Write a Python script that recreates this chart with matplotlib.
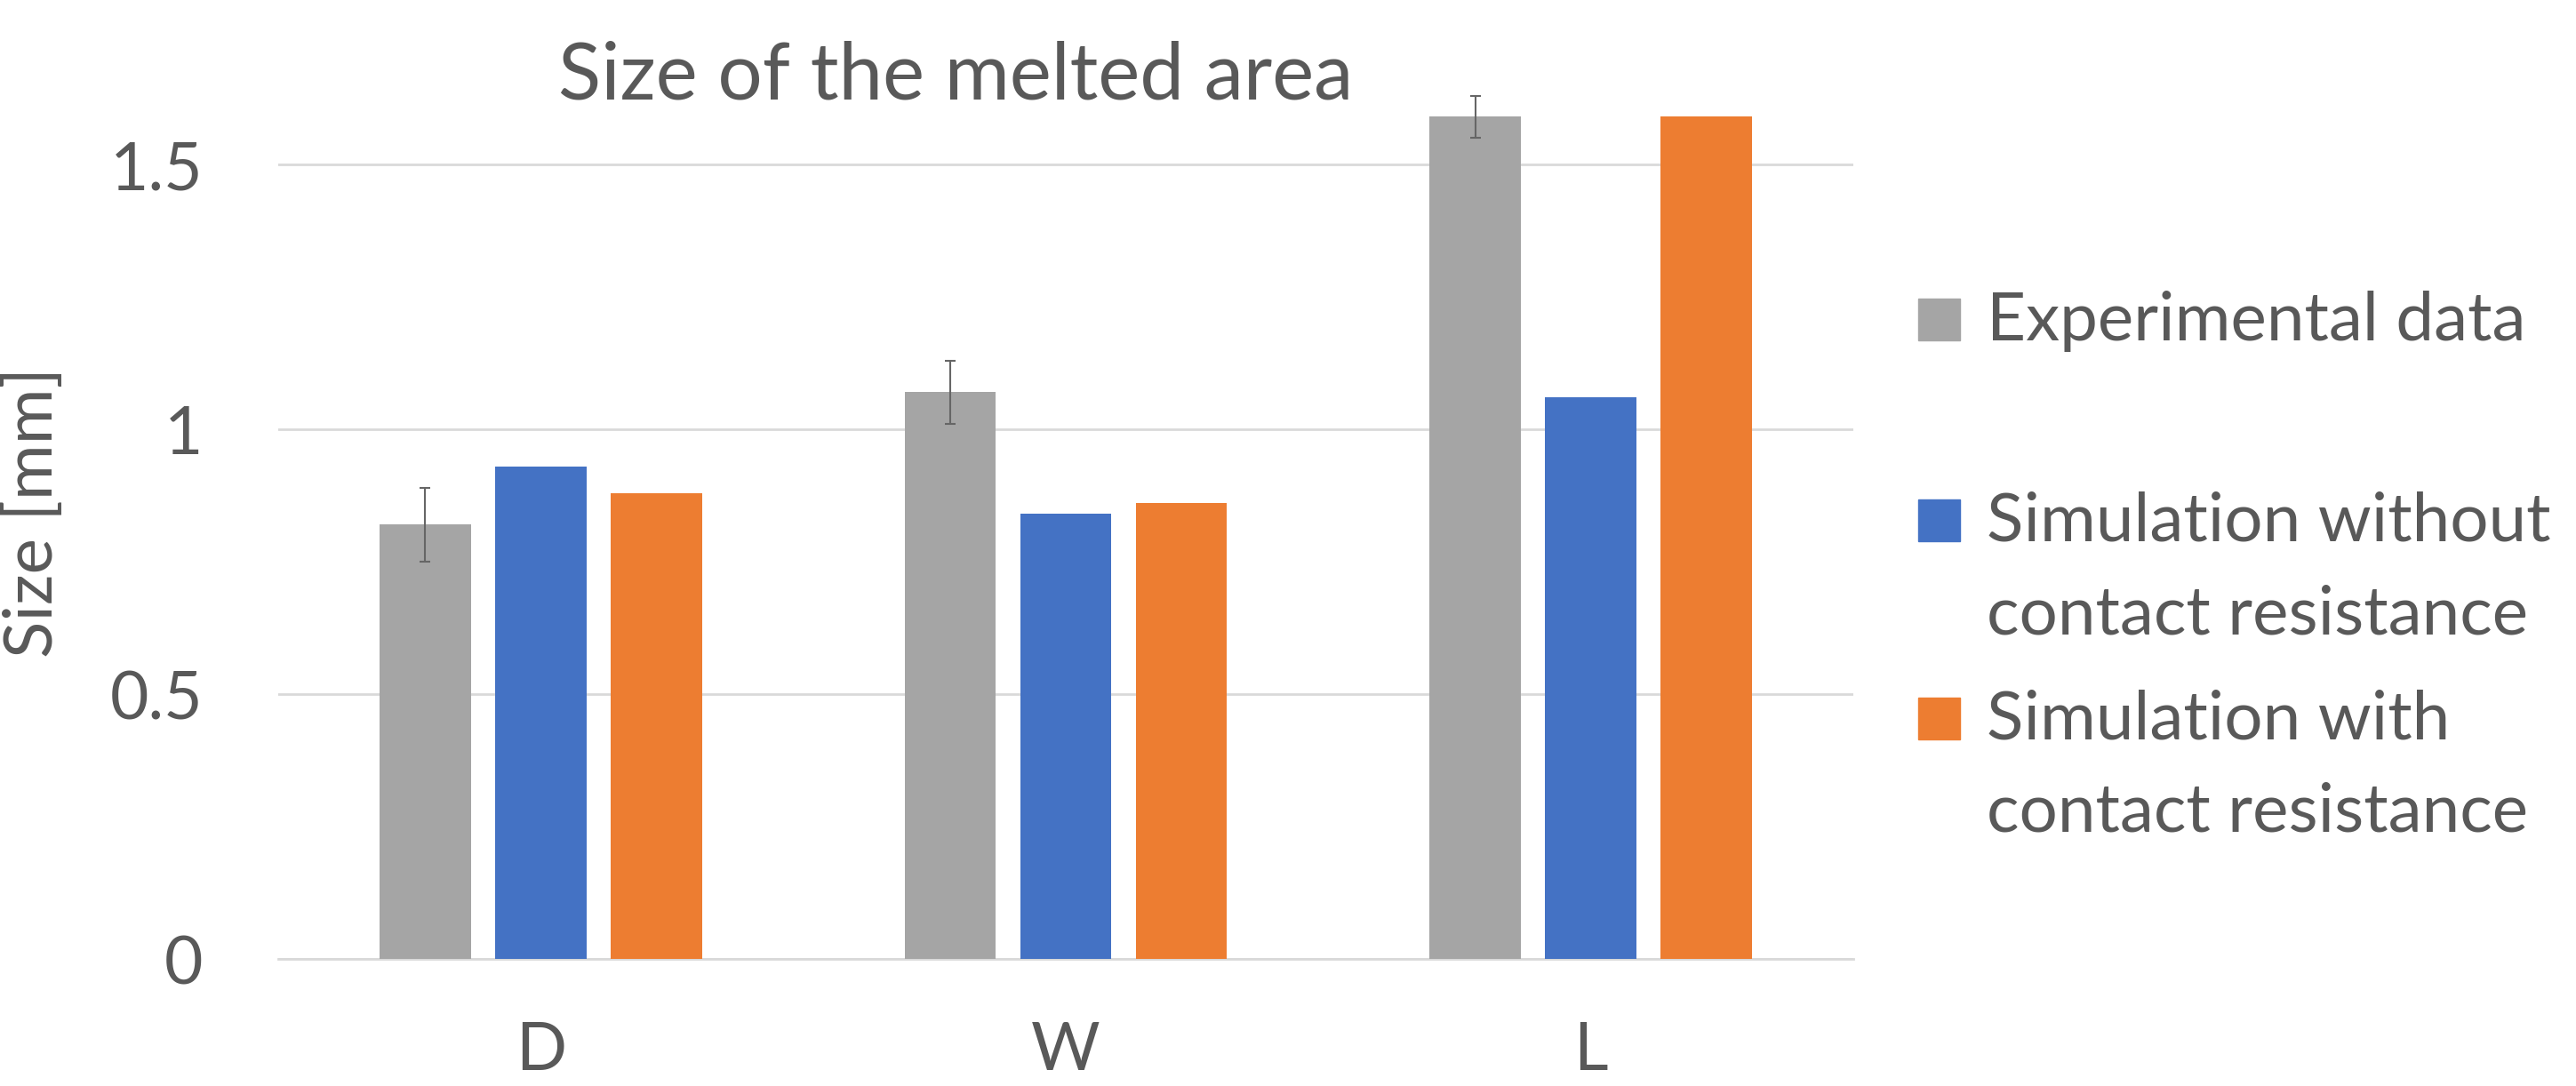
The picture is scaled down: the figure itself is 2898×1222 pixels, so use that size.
import matplotlib
matplotlib.use("Agg")
import matplotlib.pyplot as plt
from matplotlib.patches import Rectangle
import numpy as np

categories = ["D", "W", "L"]
series_names = ["Experimental data",
                "Simulation without\ncontact resistance",
                "Simulation with\ncontact resistance"]
experimental = [0.82, 1.07, 1.59]
experimental_err = [0.07, 0.06, 0.04]
sim_without = [0.93, 0.84, 1.06]
sim_with = [0.88, 0.86, 1.59]
yticks = [0, 0.5, 1, 1.5]
ytick_labels = ["0", "0.5", "1", "1.5"]

colors = ["#A5A5A5", "#4472C4", "#ED7D31"]
text_color = "#595959"

plt.rcParams['font.family'] = ['Lato', 'DejaVu Sans']

W, H = 2898, 1222
fig = plt.figure(figsize=(W / 100, H / 100), dpi=100)
ax_left, ax_right = 313 / W, 2085 / W
ax_bottom = 1 - 1079 / H
ymax = 1.7
ax_top_px = 1079 - ymax * 596
ax = fig.add_axes([ax_left, ax_bottom, ax_right - ax_left, (1079 - ax_top_px) / H])

x = np.arange(len(categories))
bw = 0.174
step = 0.22
ax.bar(x - step, experimental, bw, color=colors[0], zorder=3)
ax.errorbar(x - step, experimental, yerr=experimental_err, fmt='none',
            ecolor="#666666", elinewidth=1.5, capsize=4.5, capthick=1.5, zorder=4)
ax.bar(x, sim_without, bw, color=colors[1], zorder=3)
ax.bar(x + step, sim_with, bw, color=colors[2], zorder=3)

ax.set_xlim(-0.5, 2.5)
ax.set_ylim(0, ymax)
ax.set_yticks(yticks)
ax.set_yticklabels(ytick_labels)
ax.set_xticks(x)
ax.set_xticklabels(categories)
ax.yaxis.grid(True, color="#D9D9D9", linewidth=2.0, zorder=0)
ax.set_axisbelow(True)
for s in ["top", "right", "left"]:
    ax.spines[s].set_visible(False)
ax.spines["bottom"].set_color("#D9D9D9")
ax.spines["bottom"].set_linewidth(2.0)
ax.tick_params(axis='both', length=0, colors=text_color, labelsize=54)
ax.tick_params(axis='y', pad=61)
ax.tick_params(axis='x', pad=50)
ax.set_ylabel("Size [mm]", fontsize=55, color=text_color, labelpad=0)
ax.yaxis.set_label_coords(-(313 - 72) / (2085 - 313), (1079 - 577) / (1079 - ax_top_px))

fig.text(628 / W, 1 - 112 / H, "Size of the melted area", fontsize=64,
         color=text_color, ha='left', va='baseline')

# legend
sq = 47
baselines = [[383], [609, 713], [832, 936]]
for name, col, bl in zip(series_names, colors, baselines):
    fig.patches.append(Rectangle((2158 / W, 1 - bl[0] / H), sq / W, sq / H,
                                 transform=fig.transFigure, color=col, figure=fig))
    for line, b in zip(name.split("\n"), bl):
        fig.text(2235 / W, 1 - b / H, line, fontsize=55, color=text_color,
                 ha='left', va='baseline')

fig.savefig("out.png", dpi=100)
